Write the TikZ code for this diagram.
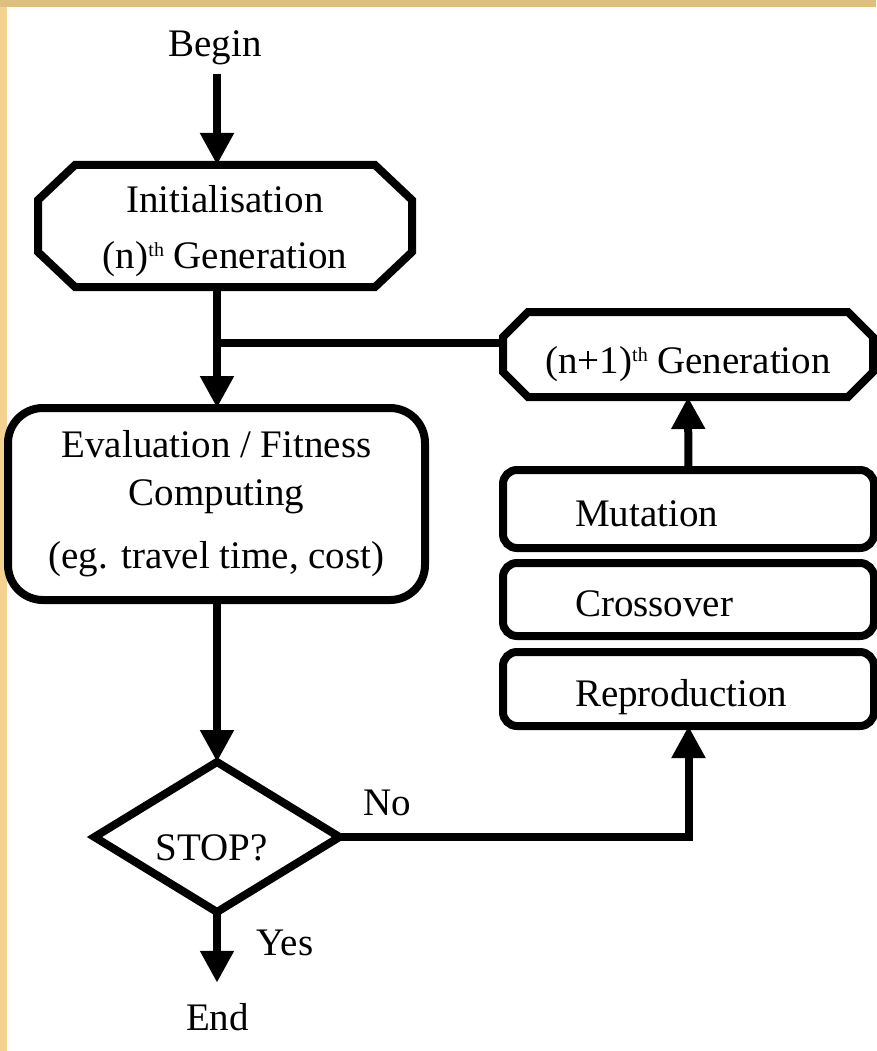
\documentclass[tikz,border=0pt]{standalone}
\usepackage{fontspec}
\setmainfont{Liberation Serif}
\usetikzlibrary{arrows.meta,calc}
\definecolor{tantop}{HTML}{DDBF7F}
\definecolor{tanleft}{HTML}{F6D290}
\newcommand\thsup{\raisebox{12pt}{\fontsize{20}{20}\selectfont th}}
\newcommand\chamfout[3]{%
  \draw[stroke] ($(#1.north west)+(#2,0)$) -- ($(#1.north east)+(-#2,0)$)
    -- ($(#1.north east)+(0,#3)$) -- ($(#1.south east)+(0,-#3)$)
    -- ($(#1.south east)+(-#2,0)$) -- ($(#1.south west)+(#2,0)$)
    -- ($(#1.south west)+(0,-#3)$) -- ($(#1.north west)+(0,#3)$) -- cycle;}
\begin{document}
\begin{tikzpicture}[x=1pt,y=-1pt,
  every node/.style={font=\fontsize{39}{48}\selectfont},
  frame/.style={draw=none, outer sep=0pt, inner sep=0pt},
  stroke/.style={line width=8pt, line join=miter},
  conn/.style={line width=8pt},
  arr/.style={conn, -{Triangle[width=32pt,length=32pt]}},
  plain/.style={inner sep=0pt, anchor=base},
  opbox/.style={frame, minimum width=371pt, text width=227pt, inner xsep=72pt,
    align=left, text height=36.8pt, text depth=2pt}
]
\useasboundingbox (0,0) rectangle (876,1051);
\fill[white] (0,0) rectangle (876,1051);
\fill[tanleft] (0,0) rectangle (7,1051);
\fill[tantop] (0,0) rectangle (876,7);

% nodes
\node[plain] (begin) at (215,57) {Begin};
\node[frame, minimum width=374pt, minimum height=122pt, align=center] (init) at (225,226)
  {\rule{0pt}{38pt}Initialisation\\[8pt] (n)\thsup\ Generation};
\chamfout{init}{37}{35}

\node[frame, minimum width=370pt, minimum height=85pt, text height=39.8pt, text depth=2pt]
  (gen1) at (688,354.5) {(n+1)\thsup\ Generation};
\chamfout{gen1}{25}{25}

\node[frame, minimum width=417pt, minimum height=192pt, align=center] (eval) at (216.5,504)
  {Evaluation / Fitness\\ Computing\\[15pt] (eg. travel time, cost)};
\draw[stroke, rounded corners=35pt] (eval.north west) rectangle (eval.south east);

\node[opbox, minimum height=78pt] (mut) at (688.5,509) {Mutation};
\draw[stroke, rounded corners=14pt] (mut.north west) rectangle (mut.south east);
\node[opbox, minimum height=73pt] (cross) at (688.5,599.5) {Crossover};
\draw[stroke, rounded corners=14pt] (cross.north west) rectangle (cross.south east);
\node[opbox, minimum height=74pt] (repro) at (688.5,689) {Reproduction};
\draw[stroke, rounded corners=14pt] (repro.north west) rectangle (repro.south east);

\node[frame, minimum width=245pt, minimum height=150pt] (stop) at (217,837) {};
\draw[stroke] (stop.north) -- (stop.east) -- (stop.south) -- (stop.west) -- cycle;
\node[plain] (stoptxt) at (211.5,860) {STOP?};

\node[plain] (end) at (217.5,1030) {End};
\node[plain] (no) at (387.5,815) {No};
\node[plain] (yes) at (285,955) {Yes};

% connectors
\coordinate (j) at (217,343);
\draw[arr] ([yshift=-8pt]begin.south -| j) -- (init.north -| j);
\draw[arr] (init.south -| j) -- (eval.north -| j);
\draw[conn] (gen1.west |- j) -- (j);
\draw[arr] (mut.north) -- (gen1.south);
\draw[arr] (eval.south -| j) -- (stop.north);
\draw[arr] (stop.east) -| (repro.south);
\draw[arr] (stop.south) -- ([yshift=20pt]end.north -| stop.south);
\end{tikzpicture}
\end{document}
